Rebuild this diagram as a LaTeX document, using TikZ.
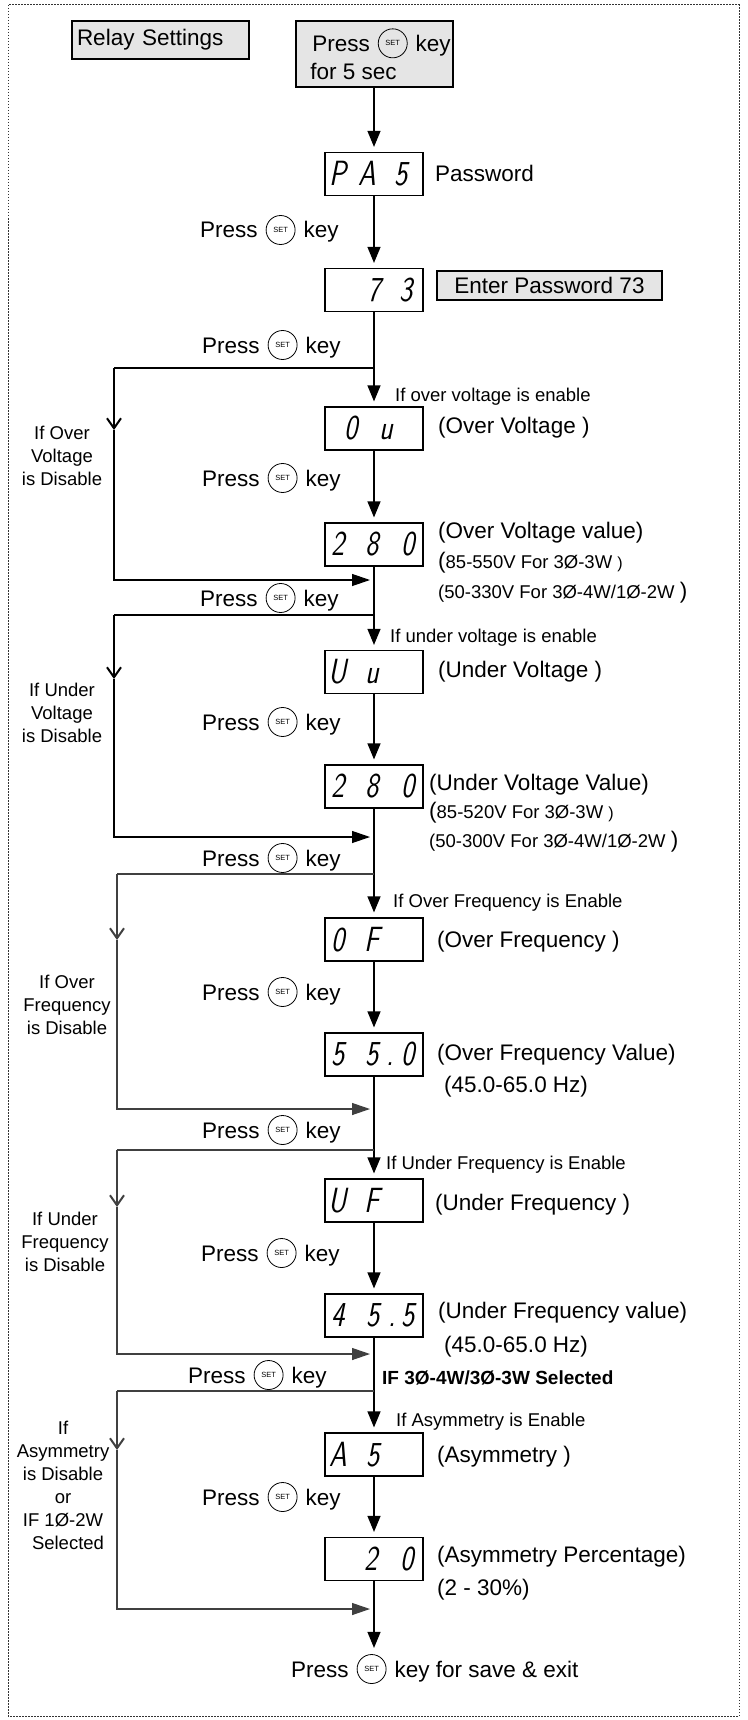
\documentclass[tikz,border=0pt]{standalone}
\usepackage{fontspec}
\setmainfont{Liberation Sans}
\newfontfamily\segfont{lmsans17-regular.otf}[FakeSlant=0.2,FakeStretch=0.8]
\usetikzlibrary{arrows.meta}
\newcommand\fm{\fontsize{22.5}{28}\selectfont}
\newcommand\fs{\fontsize{18.5}{23}\selectfont}
\newcommand\setkey{\tikz[baseline={([yshift=-8pt]k.center)}]\node[circle,draw,line width=0.8pt,minimum size=29pt,inner sep=0pt,font=\fontsize{7.5}{8}\selectfont](k){SET};}
\newcommand\presskey{Press\hspace{8pt}\setkey\hspace{8pt}key}
\newcommand\dsp[1]{\makebox[98pt][l]{#1}}
\newcommand\dc[2]{\rlap{\hspace*{#1pt}\makebox[0pt]{#2}}}
\tikzset{
  disp/.style={draw,line width=1.2pt,minimum width=98pt,minimum height=43pt,inner sep=0pt,font=\segfont\fontsize{35}{35}\selectfont},
  gbox/.style={draw,line width=1.1pt,fill=black!10,inner sep=0pt,font=\fm},
  mtext/.style={font=\fm,inner sep=0pt,anchor=west},
  note/.style={font=\fs,inner sep=0pt,anchor=west},
  side/.style={font=\fs,inner sep=0pt,align=center},
  arr/.style={line width=1.2pt,-{Triangle[width=13pt,length=16pt]},shorten >=5pt},
  flow/.style={line width=1.2pt},
  vtip/.style={line width=1.3pt,-{Straight Barb[width=14pt,length=10pt,line width=2pt]}},
  joinarr/.style={line width=1.2pt,-{Triangle[width=12pt,length=18pt]},shorten >=4pt},
}
\begin{document}
\begin{tikzpicture}[x=1pt,y=-1pt]
\useasboundingbox (0,0) rectangle (747,1720);
\draw[line width=1pt,black!80,dash pattern=on 1.5pt off 1.5pt] (8,5) rectangle (739,1716);

% header boxes
\node[gbox,minimum width=177pt,minimum height=38pt,text width=167pt,inner xsep=5pt,align=left] (relay) at (160.5,40) {Relay Settings};
\node[gbox,minimum width=157pt,minimum height=66pt,align=left] (start) at (374.5,54) {\hspace*{14pt}\presskey\\\hspace*{12pt}for 5 sec};

% displays
\node[disp] (pas) at (374,174) {\dsp{\dc{13}{P}\dc{42}{A}\dc{76}{5}}};
\node[disp] (d73) at (374,290) {\dsp{\dc{49}{7}\dc{81}{3}}};
\node[disp] (ou)  at (374,428.5) {\dsp{\dc{26}{0}\dc{61}{u}}};
\node[disp] (ov)  at (374,544.5) {\dsp{\dc{13}{2}\dc{47}{8}\dc{83}{0}}};
\node[disp] (uu)  at (374,672) {\dsp{\dc{13}{U}\dc{47}{u}}};
\node[disp] (uv)  at (374,786.5) {\dsp{\dc{13}{2}\dc{47}{8}\dc{83}{0}}};
\node[disp] (of)  at (374,939.5) {\dsp{\dc{13}{0}\dc{47}{F}}};
\node[disp] (fv)  at (374,1054.5) {\dsp{\dc{13}{5}\dc{47}{5}\dc{65}{.}\dc{83}{0}}};
\node[disp] (uf)  at (374,1200.5) {\dsp{\dc{13}{U}\dc{47}{F}}};
\node[disp] (ufv) at (374,1315.5) {\dsp{\dc{13}{4}\dc{48}{5}\dc{67}{.}\dc{83}{5}}};
\node[disp] (as)  at (374,1454.5) {\dsp{\dc{13}{A}\dc{48}{5}}};
\node[disp] (asv) at (374,1559) {\dsp{\dc{46}{2}\dc{82}{0}}};

% right-hand texts
\node[mtext] (tpas) at (435,173) {Password};
\node[gbox,minimum width=225pt,minimum height=29pt] (enter) at (549.5,285.5) {Enter Password 73};
\node[note] (e1) at (395,397) {If over voltage is enable};
\node[mtext] (tou) at (438,428) {(Over Voltage )};
\node[mtext] (tov) at (438,533) {(Over Voltage value)};
\node[note] (r1a) at (438,563) {{\fm(}85-550V For 3Ø-3W {\fontsize{16}{16}\selectfont)}};
\node[note] (r1b) at (438,593) {(50-330V For 3Ø-4W/1Ø-2W {\fm)}};
\node[note] (e2) at (390,638) {If under voltage is enable};
\node[mtext] (tuu) at (438,672) {(Under Voltage )};
\node[mtext] (tuv) at (429,785) {(Under Voltage Value)};
\node[note] (r2a) at (429,813) {{\fm(}85-520V For 3Ø-3W {\fontsize{16}{16}\selectfont)}};
\node[note] (r2b) at (429,842) {(50-300V For 3Ø-4W/1Ø-2W {\fm)}};
\node[note] (e3) at (393,903) {If Over Frequency is Enable};
\node[mtext] (tof) at (437,942) {(Over Frequency )};
\node[mtext] (tfv) at (437,1055) {(Over Frequency Value)};
\node[mtext] (r3) at (444,1087) {(45.0-65.0 Hz)};
\node[note] (e4) at (386,1165) {If Under Frequency is Enable};
\node[mtext] (tuf) at (435,1205) {(Under Frequency )};
\node[mtext] (tufv) at (438,1313) {(Under Frequency value)};
\node[mtext] (r4) at (444,1347) {(45.0-65.0 Hz)};
\node[note,font=\bfseries\fontsize{19}{23}\selectfont] (sel) at (382,1378) {IF 3Ø-4W/3Ø-3W Selected};
\node[note] (e5) at (396,1422) {If Asymmetry is Enable};
\node[mtext] (tas) at (437,1457) {(Asymmetry )};
\node[mtext] (tasv) at (437,1557) {(Asymmetry Percentage)};
\node[mtext] (r5) at (437,1590) {(2 - 30\%)};

% press key labels
\node[mtext] (p1) at (200,230) {\presskey};
\node[mtext] (p2) at (202,345) {\presskey};
\node[mtext] (p3) at (202,478) {\presskey};
\node[mtext] (p4) at (200,598) {\presskey};
\node[mtext] (p5) at (202,722) {\presskey};
\node[mtext] (p6) at (202,858) {\presskey};
\node[mtext] (p7) at (202,992) {\presskey};
\node[mtext] (p8) at (202,1130) {\presskey};
\node[mtext] (p9) at (201,1253) {\presskey};
\node[mtext] (p10) at (188,1375) {\presskey};
\node[mtext] (p11) at (202,1497) {\presskey};
\node[mtext] (fin) at (291,1669) {\presskey\ for save \& exit};

% left labels
\node[side] (l1) at (62,456) {If Over\\Voltage\\is Disable};
\node[side] (l2) at (62,713) {If Under\\Voltage\\is Disable};
\node[side] (l3) at (67,1005) {If Over\\Frequency\\is Disable};
\node[side] (l4) at (65,1242) {If Under\\Frequency\\is Disable};
\node[side] (l5) at (63,1485) {If\\Asymmetry\\is Disable\\or\\IF 1Ø-2W\\\hspace*{10pt}Selected};

% main flow
\draw[arr] (start.south -| pas) -- (pas);
\draw[arr] (pas) -- (d73);
\draw[arr] (d73) -- (ou);
\draw[arr] (ou) -- (ov);
\draw[arr] (ov) -- (uu);
\draw[arr] (uu) -- (uv);
\draw[arr] (uv) -- (of);
\draw[arr] (of) -- (fv);
\draw[arr] (fv) -- (uf);
\draw[arr] (uf) -- (ufv);
\draw[arr] (ufv) -- (as);
\draw[arr] (as) -- (asv);
\draw[arr,shorten >=6pt] (asv) -- (asv.south |- fin.north);

% bypass branches
\foreach \i/\yb/\xl/\yv/\yj/\col in {1/368/114/430/580/black, 2/615/114/679/837/black, 3/874/117/940/1109/black!75, 4/1150/117/1207/1354/black!75, 5/1391/117/1450/1609/black!75}{
  \coordinate (b\i) at (374,\yb);
  \coordinate (bl\i) at (\xl,\yb);
  \coordinate (v\i) at (\xl,\yv);
  \coordinate (jl\i) at (\xl,\yj);
  \coordinate (j\i) at (374,\yj);
  \draw[flow,\col] (b\i) -- (bl\i);
  \draw[vtip,\col] (bl\i) -- (v\i);
  \draw[joinarr,\col] (v\i) -- (jl\i) -- (j\i);
}
\end{tikzpicture}
\end{document}
